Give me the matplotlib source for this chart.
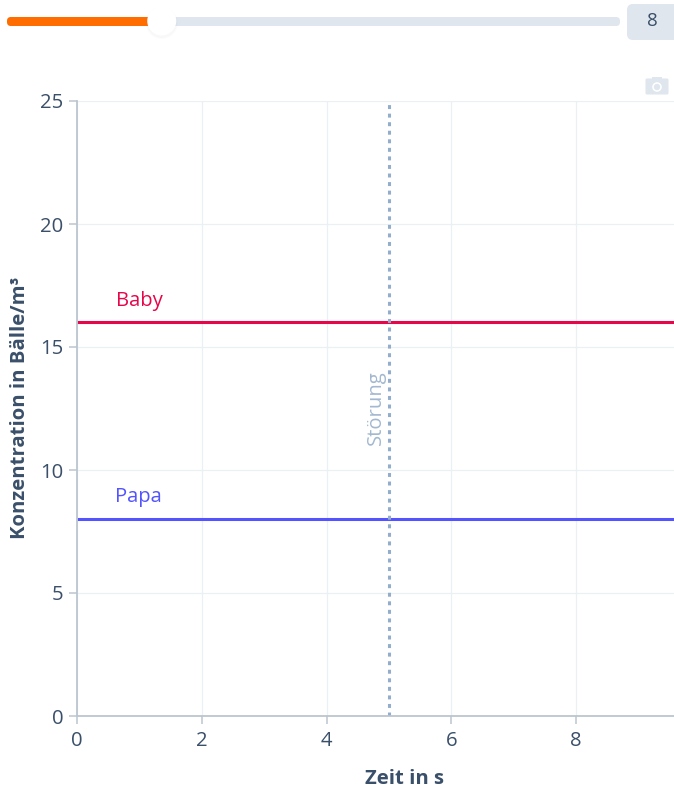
import matplotlib
matplotlib.use("Agg")
import matplotlib.pyplot as plt
from matplotlib.patches import Circle, FancyBboxPatch, Rectangle

plt.rcParams['font.family'] = ['Open Sans', 'DejaVu Sans']

# chart data
zeit = [0, 10]
baby = [16, 16]
papa = [8, 8]
stoerung_zeit = 5
x_ticks = [0, 2, 4, 6, 8]
y_ticks = [0, 5, 10, 15, 20, 25]
slider_value = 8
slider_max = 32

TEXT = '#3a4f69'
AXIS = '#bcc5d0'
GRID = '#ebf0f5'
RED = '#e6064a'
BLUE = '#5353ff'
DOT = '#93aecd'
FS = 14.6

W, H = 674, 790
fig = plt.figure(figsize=(W / 100, H / 100), dpi=100)

# plot area in pixels: left 77, right 674, top 101, bottom 716
ax = fig.add_axes([77 / W, (H - 716) / H, (W - 77) / W, (716 - 101) / H])
ax.set_xlim(0, 9.57)
ax.set_ylim(0, 25)
ax.set_xticks(x_ticks)
ax.set_yticks(y_ticks)
ax.grid(True, color=GRID, linewidth=0.9)
ax.set_axisbelow(True)
ax.tick_params(colors=AXIS, labelcolor=TEXT, labelsize=FS, length=5.8, width=1.1)
ax.tick_params(axis='x', pad=5)
ax.tick_params(axis='y', pad=4)
for s in ['top', 'right']:
    ax.spines[s].set_visible(False)
for s in ['left', 'bottom']:
    ax.spines[s].set_color(AXIS)
    ax.spines[s].set_linewidth(1.3)

ax.plot(zeit, baby, color=RED, linewidth=2.2, solid_capstyle='butt')
ax.plot(zeit, papa, color=BLUE, linewidth=2.2, solid_capstyle='butt')
ax.axvline(stoerung_zeit, color=DOT, linewidth=2.2, linestyle=(0, (1.3, 1.5)))

ax.annotate('Baby', (1, baby[0]), xytext=(0, 11), textcoords='offset pixels',
            color=RED, fontsize=FS, ha='center', va='bottom')
ax.annotate('Papa', (1, papa[0]), xytext=(-1, 12), textcoords='offset pixels',
            color=BLUE, fontsize=FS, ha='center', va='bottom')
ax.annotate('Störung', (stoerung_zeit, 12.55), xytext=(-3, 0), textcoords='offset pixels',
            color='#a3b8d0', fontsize=FS, rotation=90, ha='right', va='center')

fig.text(404 / W, 1 - 779 / H, 'Zeit in s', color=TEXT, fontsize=FS, fontweight='bold',
         ha='center', va='center')
fig.text(20 / W, 1 - 408 / H, 'Konzentration in Bälle/m³', color=TEXT, fontsize=FS,
         fontweight='bold', rotation=90, ha='center', va='center')

# slider and camera icon, overlay in pixel coordinates
ui = fig.add_axes([0, 0, 1, 1], facecolor='none')
ui.set_xlim(0, W)
ui.set_ylim(H, 0)
ui.axis('off')

track_l, track_r = 7, 620
knob = track_l + (track_r - track_l) * slider_value / slider_max
ui.add_patch(FancyBboxPatch((track_l + 4, 21), track_r - track_l - 8, 1,
                            boxstyle='round,pad=4', fc='#dfe6ee', ec='none'))
ui.add_patch(FancyBboxPatch((track_l + 4, 21), knob - track_l - 8, 1,
                            boxstyle='round,pad=4', fc='#ff6d00', ec='none'))
for r, a in [(16, 0.025), (15, 0.03)]:
    ui.add_patch(Circle((knob + 1.5, 23), r, fc='#8090a0', ec='none', alpha=a))
ui.add_patch(Circle((knob + 1.5, 21), 14.5, fc='white', ec='none'))
ui.add_patch(FancyBboxPatch((633, 10), 50, 24, boxstyle='round,pad=6', fc='#dfe6ee', ec='none'))
ui.text(652, 21, str(slider_value), color=TEXT, fontsize=13.5, ha='center', va='center')

CAM = '#dfe6ee'
ui.add_patch(FancyBboxPatch((647, 80), 20, 13, boxstyle='round,pad=1.5', fc=CAM, ec='none'))
ui.add_patch(Rectangle((652, 76.5), 10, 4, fc=CAM, ec='none'))
ui.add_patch(Circle((657, 87), 4.8, fc='white', ec='none'))
ui.add_patch(Circle((657, 87), 3.2, fc=CAM, ec='none'))

fig.savefig('out.png', dpi=100)
